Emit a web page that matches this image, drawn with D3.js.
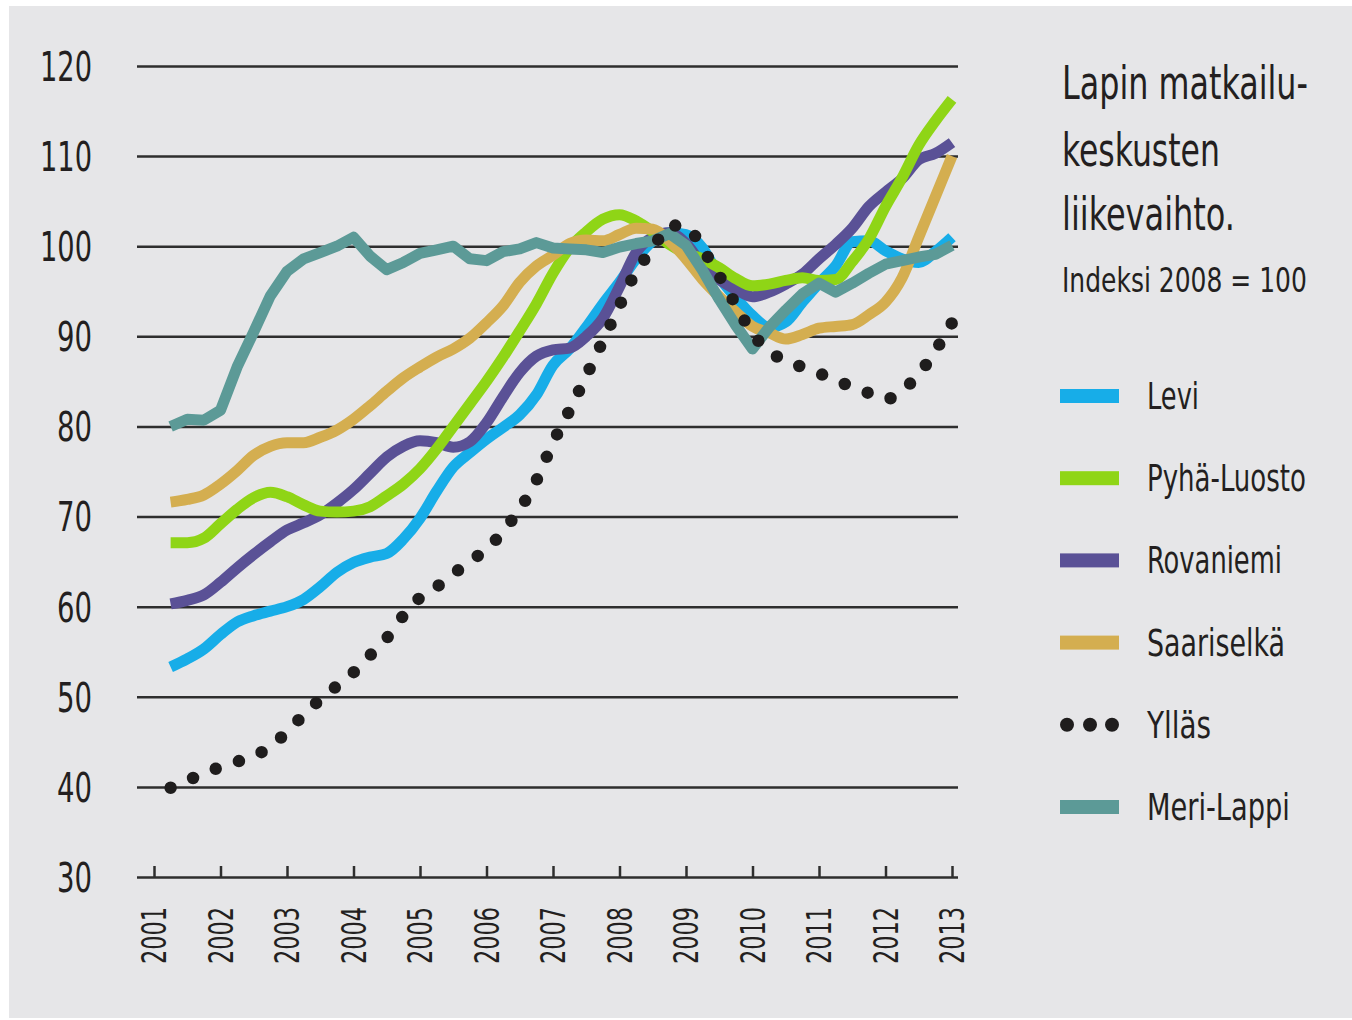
<!DOCTYPE html>
<html>
<head>
<meta charset="utf-8">
<script src="https://cdn.jsdelivr.net/npm/d3@7"></script>
<style>
  html, body { margin: 0; padding: 0; background: #fff; }
  svg { display: block; }
  text { font-family: "Liberation Sans Narrow", "DejaVu Sans Condensed", "Arial Narrow", "Roboto", sans-serif; fill: #231f20; }
</style>
</head>
<body>
<svg id="chart" width="1352" height="1020"></svg>
<script>
// values are quarterly, 2001 Q2 ... 2013 Q1 (index 2008 = 100)
const years = [2001, 2002, 2003, 2004, 2005, 2006, 2007, 2008, 2009, 2010, 2011, 2012, 2013]
const yTicks = [30, 40, 50, 60, 70, 80, 90, 100, 110, 120]

const levi = [53.3, 54.2, 55.3, 56.9, 58.3, 59.0, 59.5, 60.0, 60.8, 62.2, 63.8, 64.9,
  65.5, 65.9, 67.5, 69.8, 72.8, 75.5, 77.1, 78.6, 79.9, 81.3, 83.5, 86.8,
  88.6, 91.0, 93.6, 96.0, 98.6, 100.6, 101.5, 101.3, 99.8, 96.6, 94.3, 92.3,
  91.0, 91.6, 93.8, 95.9, 97.8, 100.5, 100.6, 99.5, 98.6, 98.2, 99.4, 101.0]
const pyhaLuosto = [67.1, 67.1, 67.6, 69.2, 70.8, 72.1, 72.7, 72.2, 71.3, 70.6, 70.5, 70.6,
  71.1, 72.3, 73.6, 75.3, 77.5, 80.0, 82.5, 85.0, 87.7, 90.6, 93.6, 97.0,
  99.8, 101.6, 103.0, 103.5, 102.8, 101.6, 100.2, 99.2, 98.6, 97.6, 96.4, 95.6,
  95.8, 96.2, 96.5, 96.2, 96.3, 98.3, 100.8, 104.4, 107.6, 111.2, 113.9, 116.3]
const rovaniemi = [60.3, 60.7, 61.3, 62.7, 64.3, 65.8, 67.2, 68.5, 69.3, 70.2, 71.5, 73.0,
  74.8, 76.6, 77.8, 78.4, 78.2, 77.7, 78.3, 80.4, 83.3, 86.0, 87.8, 88.5,
  88.7, 90.0, 92.0, 95.5, 99.3, 101.0, 101.5, 100.3, 97.9, 96.3, 95.2, 94.4,
  94.9, 95.8, 96.9, 98.6, 100.2, 102.0, 104.4, 106.0, 107.5, 109.6, 110.3, 111.5]
const saariselka = [71.6, 71.9, 72.4, 73.6, 75.1, 76.8, 77.8, 78.2, 78.2, 78.8, 79.6, 80.8,
  82.3, 83.9, 85.4, 86.6, 87.7, 88.6, 89.8, 91.5, 93.4, 96.0, 97.8, 99.0,
  100.3, 100.7, 100.6, 101.3, 102.0, 101.9, 100.6, 98.6, 96.3, 94.4, 92.7, 91.1,
  90.4, 89.7, 90.2, 90.9, 91.1, 91.3, 92.4, 93.8, 96.5, 101.0, 105.5, 110.0]
const yllas = [39.9, 40.7, 41.5, 42.2, 42.8, 43.4, 44.5, 46.1, 48.0, 49.7, 51.2, 52.7,
  54.6, 56.5, 59.0, 61.0, 62.2, 63.6, 65.1, 66.3, 68.4, 70.8, 74.0, 78.2,
  81.8, 85.6, 89.5, 93.4, 97.2, 99.7, 102.3, 102.2, 99.7, 96.7, 93.5, 90.3,
  88.4, 87.2, 86.6, 85.9, 85.1, 84.4, 83.7, 83.0, 84.0, 85.8, 88.4, 91.5]
const meriLappi = [80.0, 80.8, 80.7, 81.8, 86.6, 90.5, 94.5, 97.2, 98.6, 99.3, 100.0, 101.0,
  98.9, 97.4, 98.2, 99.2, 99.6, 100.0, 98.6, 98.4, 99.4, 99.7, 100.4, 99.8,
  99.7, 99.6, 99.3, 99.9, 100.3, 100.6, 101.4, 100.1, 97.3, 94.1, 91.2, 88.6,
  91.0, 92.9, 94.7, 95.9, 94.9, 95.9, 97.0, 98.0, 98.4, 98.8, 99.1, 100.1]

const quarters = years.slice(0, -1).flatMap(y => [y + 0.25, y + 0.5, y + 0.75, y + 1])

const series = [
  { name: "Levi", values: levi, color: "#17ade8", dotted: false },
  { name: "Rovaniemi", values: rovaniemi, color: "#5a5196", dotted: false },
  { name: "Pyhä-Luosto", values: pyhaLuosto, color: "#8fd516", dotted: false },
  { name: "Saariselkä", values: saariselka, color: "#d4ae50", dotted: false },
  { name: "Meri-Lappi", values: meriLappi, color: "#5c9a97", dotted: false, linear: true },
  { name: "Ylläs", values: yllas, color: "#1f1d1d", dotted: true }
]
const legendOrder = ["Levi", "Pyhä-Luosto", "Rovaniemi", "Saariselkä", "Ylläs", "Meri-Lappi"]

const svg = d3.select("#chart")

// squeeze a text horizontally to a given width (condensed look), no textLength
function fitText(g, x, y, str, size, w){
    const t = g.append("text").attr("font-size", size).text(str)
    const natural = t.node().getComputedTextLength()
    t.attr("transform", `translate(${x},${y}) scale(${w / natural},1)`)
    return t
}

svg.append("rect")
  .attr("x", 9).attr("y", 6)
  .attr("width", 1343).attr("height", 1012)
  .attr("fill", "#e6e6e8")

const x = d3.scaleLinear().domain([2001, 2013]).range([154, 952])
const y = d3.scaleLinear().domain([30, 120]).range([877, 66])

// gridlines + y labels
const yAxis = d3.axisLeft(y)
  .tickValues(yTicks)
  .tickSize(821)
  .tickPadding(45)
  .tickFormat(d3.format("d"))

const gy = svg.append("g")
  .attr("transform", "translate(958,0)")
  .call(yAxis)
gy.select(".domain").remove()
gy.selectAll(".tick line").attr("stroke", "#2e2e2e").attr("stroke-width", 2.5)
gy.selectAll(".tick text")
  .attr("font-size", 40)
  .attr("fill", "#231f20")
  .attr("dy", "0.36em")
  .attr("textLength", d => d >= 100 ? 52 : 35)
  .attr("lengthAdjust", "spacingAndGlyphs")

// x axis ticks + rotated year labels
const xAxis = d3.axisBottom(x)
  .tickValues(years)
  .tickSize(-11)
  .tickFormat(d3.format("d"))

const gx = svg.append("g")
  .attr("transform", "translate(0,877)")
  .call(xAxis)
gx.select(".domain").remove()
gx.selectAll(".tick line").attr("stroke", "#2e2e2e").attr("stroke-width", 2.5)
gx.selectAll(".tick text")
  .attr("font-size", 33)
  .attr("fill", "#231f20")
  .attr("x", 0).attr("y", 0)
  .attr("dy", "0.36em")
  .attr("transform", "translate(0,87) rotate(-90)")
  .attr("text-anchor", "start")
  .attr("textLength", 57)
  .attr("lengthAdjust", "spacingAndGlyphs")

// lines
series.forEach(s => {
  const line = d3.line()
    .x((d, i) => x(quarters[i]))
    .y(d => y(d))
    .curve(s.linear ? d3.curveLinear : d3.curveMonotoneX)

  const p = svg.append("path")
    .datum(s.values)
    .attr("d", line)
    .attr("fill", "none")
    .attr("stroke", s.color)
    .attr("stroke-linejoin", "round")

  if (s.dotted) {
    // spread dots so one falls on each end of the path
    const len = p.node().getTotalLength()
    const n = Math.round(len / 24.5)
    const gap = (len - 1) / n
    p.attr("stroke-width", 12.5)
      .attr("stroke-linecap", "round")
      .attr("stroke-dasharray", `0 ${gap}`)
  } else {
    p.attr("stroke-width", 11)
  }
})

// title
const title = svg.append("g")
fitText(title, 1062, 99, "Lapin matkailu-", 46, 246)
fitText(title, 1062, 166, "keskusten", 46, 158)
fitText(title, 1062, 230, "liikevaihto.", 46, 173)
fitText(title, 1062, 292, "Indeksi 2008 = 100", 34, 245)

// legend
const legendWidths = { "Levi": 52, "Pyhä-Luosto": 159, "Rovaniemi": 135, "Saariselkä": 138, "Ylläs": 64, "Meri-Lappi": 143 }
const legendY = d3.scalePoint().domain(legendOrder).range([396, 807])

const legend = svg.append("g")
legendOrder.forEach(name => {
  const s = series.find(d => d.name === name)
  const cy = legendY(name)
  if (s.dotted) {
    [1067, 1090, 1112].forEach(cx => {
      legend.append("circle").attr("cx", cx).attr("cy", cy).attr("r", 7).attr("fill", s.color)
    })
  } else {
    legend.append("rect")
      .attr("x", 1060).attr("y", cy - 7)
      .attr("width", 59).attr("height", 14)
      .attr("fill", s.color)
  }
  fitText(legend, 1147, cy + 13, name, 37, legendWidths[name])
})
</script>
</body>
</html>
